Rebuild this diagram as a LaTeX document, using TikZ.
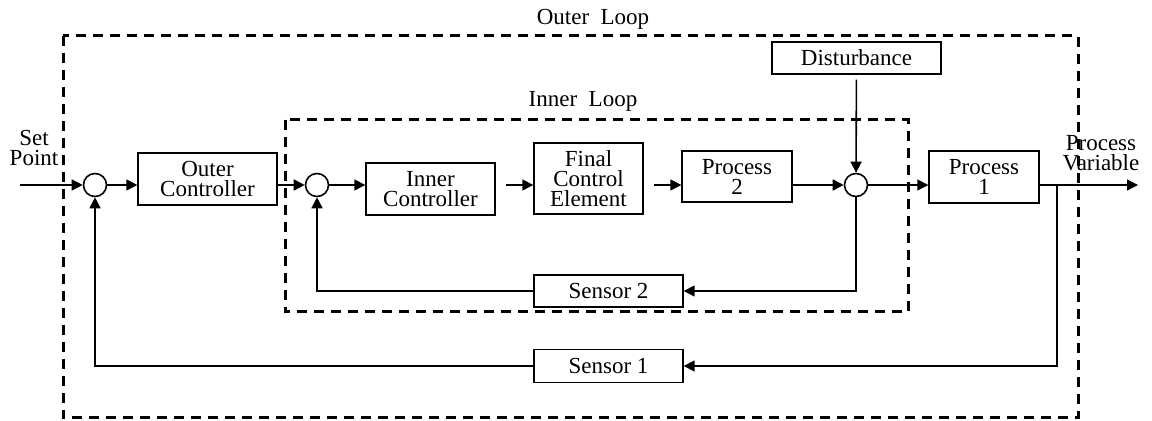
\documentclass[tikz,border=0pt]{standalone}
\usepackage{fontspec}
\setmainfont{Liberation Serif}
\usetikzlibrary{arrows.meta}

\tikzset{
  blokk/.style={draw, line width=0.7pt, align=center, inner sep=0pt},
  summer/.style={draw, circle, line width=0.8pt, minimum size=11.5pt, inner sep=0pt},
  sig/.style={line width=0.8pt, -{Triangle[length=5.5pt,width=5.5pt]}},
  dashbox/.style={line width=1.5pt, dash pattern=on 5pt off 3.5pt},
}

\begin{document}
\begin{tikzpicture}[x=0.5pt, y=-0.5pt, font=\fontsize{11.5}{10}\selectfont]
  \useasboundingbox (0,0) rectangle (1152,421);

%Sloyfer
  \draw[dashbox] (63,36) rectangle (1078,418);
  \draw[dashbox] (285,120) rectangle (908,312);
  \node[anchor=base] (outerlbl) at (593,25) {Outer~~Loop};
  \node[anchor=base] (innerlbl) at (583,107) {Inner~~Loop};

%Tekst
  \node[align=center] (setp) at (34,148) {Set\\Point};
  \node[align=center] (pv) at (1101,153) {Process\\Variable};

%Summepunkter
  \node[summer] (s1) at (95,185) {};
  \node[summer] (s2) at (317,185) {};
  \node[summer] (s3) at (856,185) {};

%Blokker
  \node[blokk, minimum width=69.5pt, minimum height=26pt] (oc) at (207.5,179) {Outer\\Controller};
  \node[blokk, minimum width=64.5pt, minimum height=26pt] (ic) at (430.5,189) {Inner\\Controller};
  \node[blokk, minimum width=54.5pt, minimum height=35.5pt] (fce) at (588.5,178.5) {Final\\Control\\Element};
  \node[blokk, minimum width=55pt, minimum height=25.5pt] (p2) at (737,176.5) {Process\\2};
  \node[blokk, minimum width=55pt, minimum height=26pt] (p1) at (984,177) {Process\\1};
  \node[blokk, minimum width=84.5pt, minimum height=16pt] (dist) at (856.5,58) {Disturbance};
  \node[blokk, minimum width=74.5pt, minimum height=16pt] (sen2) at (608.5,291) {Sensor 2};
  \node[blokk, minimum width=74.5pt, minimum height=16.5pt] (sen1) at (608.5,366) {Sensor 1};

  \coordinate (inn) at (20,185);
  \coordinate (gren) at (1057,185);
  \coordinate (ut) at (1138,185);

%Framover
  \draw[sig] (inn) -- (s1);
  \draw[sig] (s1) -- (oc.west |- s1);
  \draw[sig] (oc.east |- s2) -- (s2);
  \draw[sig] (s2) -- (ic.west |- s2);
  \draw[sig, shorten <=5pt] (ic.east |- s2) -- (fce.west |- s2);
  \draw[sig, shorten <=5pt] (fce.east |- s2) -- (p2.west |- s2);
  \draw[sig] (p2.east |- s3) -- (s3);
  \draw[sig] (s3) -- (p1.west |- s3);
  \draw[sig] (p1.east |- s3) -- (ut);
  \draw[sig, shorten <=2.5pt] (dist) -- (s3);

%Tilbakekobling
  \draw[sig] (s3) -- (s3 |- sen2) -- (sen2);
  \draw[sig] (sen2) -- (s2 |- sen2) -- (s2);
  \draw[sig] (gren) -- (gren |- sen1) -- (sen1);
  \draw[sig] (sen1) -- (s1 |- sen1) -- (s1);

\end{tikzpicture}
\end{document}
